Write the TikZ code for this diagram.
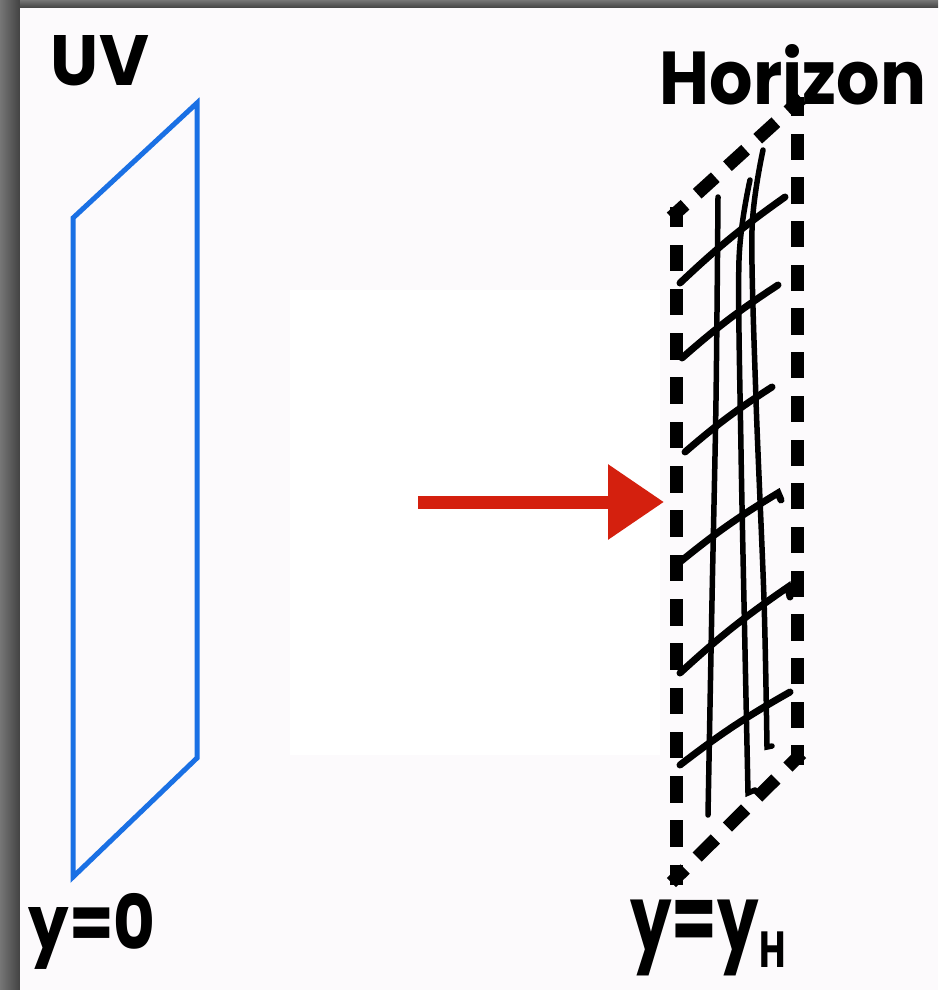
\documentclass[tikz,border=0pt]{standalone}
\usepackage{fontspec}
\usepackage{graphicx}
\newfontfamily\hand{Poppins}
\usetikzlibrary{arrows.meta}
\definecolor{bgwhite}{RGB}{252,250,252}
\definecolor{planeblue}{RGB}{26,112,228}
\definecolor{arrowred}{RGB}{212,32,14}
\definecolor{frameA}{RGB}{118,118,118}
\definecolor{frameB}{RGB}{66,66,66}
\tikzset{
  uvplane/.style={draw=planeblue, line width=5pt, line join=miter},
  hzedge/.style args={#1/#2}{draw=black, line width=13pt, line cap=rect,
     dash pattern=on #1pt off #2pt, dash phase=#1/2},
  hatchline/.style={draw=black, line width=7pt, line cap=round},
  fibreline/.style={draw=black, line width=5.5pt, line cap=round},
  flowarrow/.style={draw=arrowred, line width=13pt, -{Triangle[length=56pt,width=72pt]}},
  label/.style={inner sep=0pt, text=black}
}
\begin{document}
\begin{tikzpicture}[x=1pt,y=-1pt]
\useasboundingbox (0,0) rectangle (938,990);
% frame and background
\shade[left color=frameA, right color=frameB] (0,0) rectangle (20,990);
\shade[top color=frameA, bottom color=frameB] (20,0) rectangle (938,8);
\fill[bgwhite] (20,8) rectangle (938,990);
\fill[white] (290,290) rectangle (660,755);

% UV plane
\coordinate (uvTL) at (73,218);
\coordinate (uvTR) at (197,103);
\coordinate (uvBR) at (197,758);
\coordinate (uvBL) at (73,877);
\draw[uvplane] (uvTL) -- (uvTR) -- (uvBR) -- (uvBL) -- cycle;

% Horizon plane (each edge dashed so that corners carry a dash)
\coordinate (hzTL) at (676,213);
\coordinate (hzTR) at (797,103);
\coordinate (hzBR) at (797,758);
\coordinate (hzBL) at (676,878);
\draw[hzedge=11.5/29.4] (hzTL) -- (hzTR);
\draw[hzedge=13.2/30.5] (hzTR) -- (hzBR);
\draw[hzedge=12.6/30.0] (hzBR) -- (hzBL);
\draw[hzedge=13.6/30.7] (hzBL) -- (hzTL);

% hatch lines
\draw[hatchline] (680,283) to[bend left=4] (785,197);
\draw[hatchline] (682,358) to[bend left=4] (778,285);
\draw[hatchline] (685,452) to[bend left=4] (772,387);
\draw[hatchline] (680,562) to[bend left=4] (778,493) -- (781,500);
\draw[hatchline] (680,673) to[bend left=4] (788,587) -- (790,597);
\draw[hatchline] (680,765) to[bend left=4] (790,692);
\draw[fibreline] plot[smooth] coordinates {(718,197) (716,400) (712,600) (708,815)};
\draw[fibreline] plot[smooth] coordinates {(750,180) (739,260) (741,450) (745,650) (748,793)} -- (755,790);
\draw[fibreline] plot[smooth] coordinates {(763,150) (752,230) (756,400) (764,600) (767,747)} -- (772,746);

% red arrow
\coordinate (arrS) at (418,502);
\coordinate (arrE) at (664,502);
\draw[flowarrow] (arrS) -- (arrE);

% labels
\node[label] (uv) at (100,61) {\resizebox{98pt}{50pt}{\hand\bfseries UV}};
\node[label] (hz) at (793,75) {\resizebox{266pt}{60pt}{\hand\bfseries Horizon}};
\node[label] (y0) at (92,931) {\resizebox*{127pt}{76pt}{\hand\bfseries y=0}};
\node[label] (yh) at (708,938) {\resizebox*{155pt}{76pt}{\hand\bfseries y=y\raisebox{-0.3ex}{\fontsize{5.5}{6}\selectfont H}}};
\end{tikzpicture}
\end{document}
